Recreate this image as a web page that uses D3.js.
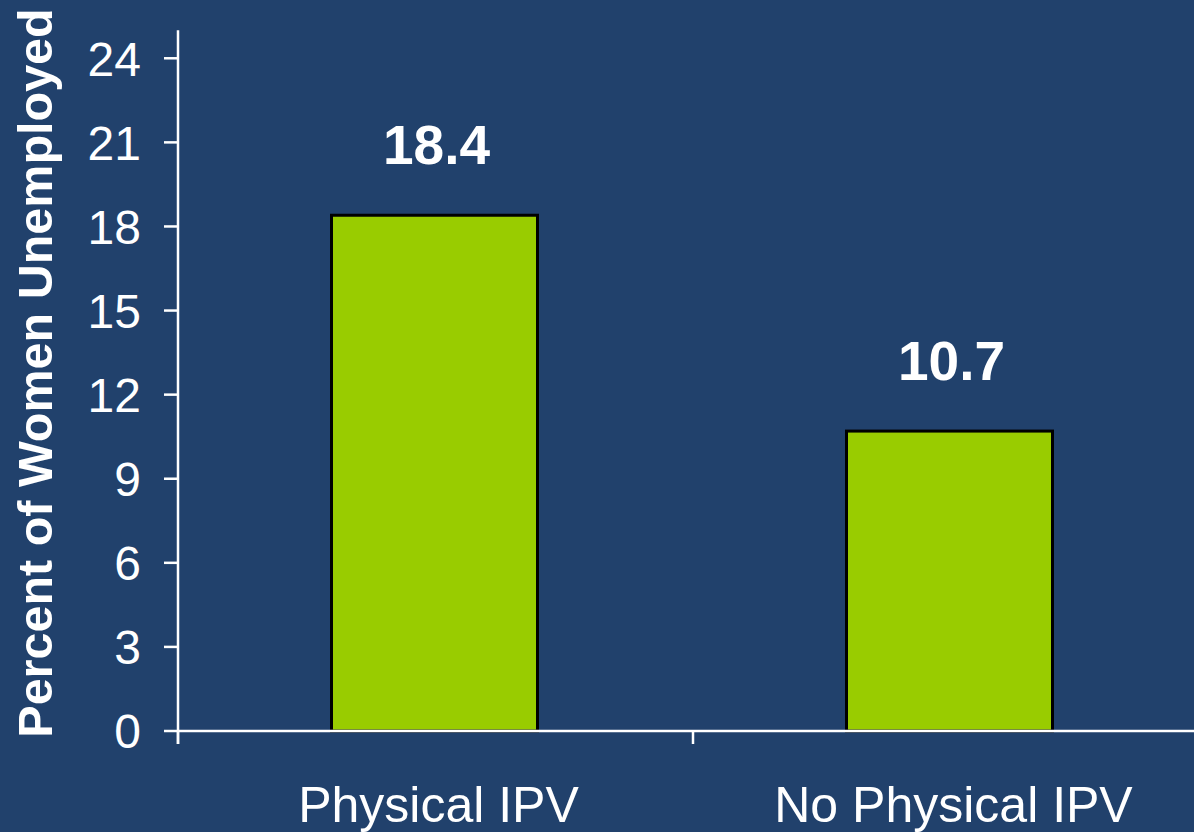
<!DOCTYPE html>
<html>
<head>
<meta charset="utf-8">
<script src="https://cdn.jsdelivr.net/npm/d3@7"></script>
<style>
  html, body { margin: 0; padding: 0; background: #21416c; }
  svg { display: block; }
</style>
</head>
<body>
<svg></svg>
<script>
var categories = ["Physical IPV", "No Physical IPV"];
var values = [18.4, 10.7];
var yTicks = [0, 3, 6, 9, 12, 15, 18, 21, 24];
var yTitle = "Percent of Women Unemployed";

var svg = d3.select("svg"),
    width = 1194,
    height = 832;

svg.attr("width", width).attr("height", height)
    .style("font-family", "Arial, 'Liberation Sans', sans-serif");

svg.append("rect").attr("width", width).attr("height", height).attr("fill", "#21416c");

var x0 = 178, y0 = 731;

var x = d3.scaleBand()
    .domain(categories)
    .range([x0, x0 + 1030])
    .paddingInner(0.6)
    .paddingOuter(0.3);

var y = d3.scaleLinear()
    .domain([0, 25])
    .range([y0, y0 - 25 * 28.03]);

// y axis
svg.append("line")
    .attr("x1", x0).attr("x2", x0)
    .attr("y1", y(25)).attr("y2", y0 + 13)
    .attr("stroke", "#fff").attr("stroke-width", 2.5);

svg.selectAll(".ytick")
    .data(yTicks)
    .join("line")
    .attr("class", "ytick")
    .attr("x1", x0 - 14).attr("x2", x0)
    .attr("y1", d => y(d)).attr("y2", d => y(d))
    .attr("stroke", "#fff").attr("stroke-width", 2.5);

svg.selectAll(".ylabel")
    .data(yTicks)
    .join("text")
    .attr("class", "ylabel")
    .attr("x", 141)
    .attr("y", d => y(d))
    .attr("dy", "0.36em")
    .attr("text-anchor", "end")
    .attr("fill", "#fff")
    .attr("font-size", 48)
    .text(d => d);

// bars
svg.selectAll(".bar")
    .data(values)
    .join("rect")
    .attr("class", "bar")
    .attr("x", (d, i) => x(categories[i]) - 1)
    .attr("y", d => y(d))
    .attr("width", x.bandwidth())
    .attr("height", d => y0 - y(d))
    .attr("fill", "#99cc00")
    .attr("stroke", "#000")
    .attr("stroke-width", 3);

// x axis
svg.append("line")
    .attr("x1", x0).attr("x2", width)
    .attr("y1", y0).attr("y2", y0)
    .attr("stroke", "#fff").attr("stroke-width", 2.5);

var tickOffset = x.step() * x.paddingOuter();
svg.selectAll(".xtick")
    .data(categories)
    .join("line")
    .attr("class", "xtick")
    .attr("x1", d => x(d) - tickOffset)
    .attr("x2", d => x(d) - tickOffset)
    .attr("y1", y0).attr("y2", y0 + 13)
    .attr("stroke", "#fff").attr("stroke-width", 2.5);

svg.selectAll(".xlabel")
    .data(categories)
    .join("text")
    .attr("class", "xlabel")
    .attr("x", d => x(d) + x.bandwidth() / 2 + 3)
    .attr("y", 822)
    .attr("text-anchor", "middle")
    .attr("fill", "#fff")
    .attr("font-size", 50)
    .text(d => d);

// value labels
svg.selectAll(".value")
    .data(values)
    .join("text")
    .attr("class", "value")
    .attr("x", (d, i) => x(categories[i]) + x.bandwidth() / 2 + 1)
    .attr("y", d => y(d) - 51)
    .attr("text-anchor", "middle")
    .attr("fill", "#fff")
    .attr("font-size", 55)
    .attr("font-weight", "bold")
    .text(d => d.toFixed(1));

// y title
svg.append("text")
    .attr("transform", "translate(52," + 373 + ") rotate(-90)")
    .attr("text-anchor", "middle")
    .attr("fill", "#fff")
    .attr("font-size", 48.5)
    .attr("font-weight", "bold")
    .text(yTitle);
</script>
</body>
</html>
